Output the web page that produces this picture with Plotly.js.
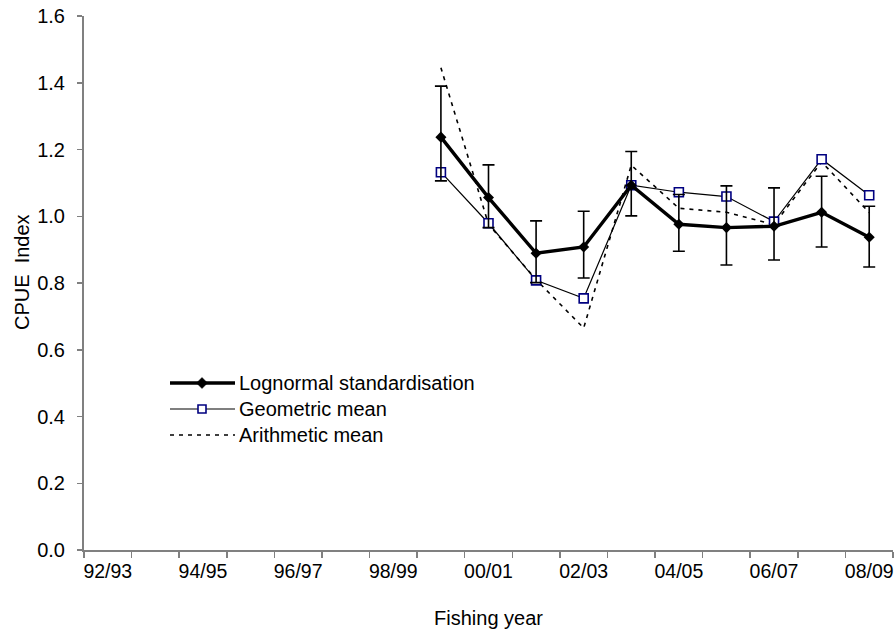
<!DOCTYPE html>
<html>
<head>
<meta charset="utf-8">
<script src="https://cdn.plot.ly/plotly-3.0.1.min.js"></script>
<style>
  html, body { margin: 0; padding: 0; background: #ffffff; }
  #chart { width: 894px; height: 637px; }
</style>
</head>
<body>
<div id="chart"></div>
<script>
// Every fishing year on the category axis
const fishingYears = ['92/93', '93/94', '94/95', '95/96', '96/97', '97/98', '98/99', '99/00',
  '00/01', '01/02', '02/03', '03/04', '04/05', '05/06', '06/07', '07/08', '08/09'];
// Labels printed under the axis (every second year)
const yearLabels = ['92/93', '', '94/95', '', '96/97', '', '98/99', '', '00/01', '',
  '02/03', '', '04/05', '', '06/07', '', '08/09'];

// Years with CPUE estimates
const seriesYears = ['99/00', '00/01', '01/02', '02/03', '03/04', '04/05', '05/06', '06/07', '07/08', '08/09'];

// Lognormal standardised index with its confidence bounds
const lognormal = [1.237, 1.056, 0.889, 0.908, 1.093, 0.976, 0.966, 0.970, 1.012, 0.937];
const lognormalUpper = [1.390, 1.154, 0.986, 1.015, 1.194, 1.065, 1.091, 1.085, 1.120, 1.030];
const lognormalLower = [1.106, 0.966, 0.801, 0.815, 1.001, 0.895, 0.854, 0.869, 0.908, 0.848];

// Unstandardised indices
const geometricMean = [1.132, 0.979, 0.808, 0.754, 1.093, 1.072, 1.059, 0.984, 1.171, 1.063];
const arithmeticMean = [1.445, 0.976, 0.810, 0.665, 1.153, 1.024, 1.012, 0.975, 1.163, 1.011];

// Series names, in key order
const seriesNames = ['Lognormal standardisation', 'Geometric mean', 'Arithmetic mean'];

const errPlus = lognormal.map((v, i) => lognormalUpper[i] - v);
const errMinus = lognormal.map((v, i) => v - lognormalLower[i]);

const FONT = 'Liberation Sans, Arial, sans-serif';
const W = 894, H = 637;
const M = { l: 84, r: 1, t: 16, b: 87 };
const NAVY = '#000080';

// pixel -> paper helpers for the hand-built key and the vertical title
const px = x => (x - M.l) / (W - M.l - M.r);
const py = y => (H - M.b - y) / (H - M.t - M.b);

const lineStyles = [
  { color: '#000000', width: 3.4 },
  { color: '#000000', width: 1.2 },
  { color: '#000000', width: 1.6, dash: '4px,5px' }
];

const traces = [
  {
    x: seriesYears, y: arithmeticMean, type: 'scatter', mode: 'lines',
    name: seriesNames[2], showlegend: false,
    line: lineStyles[2]
  },
  {
    x: seriesYears, y: geometricMean, type: 'scatter', mode: 'lines+markers',
    name: seriesNames[1], showlegend: false,
    line: lineStyles[1],
    marker: { symbol: 'square', size: 9, color: '#ffffff', line: { color: NAVY, width: 1.6 } }
  },
  {
    x: seriesYears, y: lognormal, type: 'scatter', mode: 'lines+markers',
    name: seriesNames[0], showlegend: false,
    line: lineStyles[0],
    marker: { symbol: 'diamond', size: 8.5, color: '#000000' },
    error_y: {
      type: 'data', symmetric: false, array: errPlus, arrayminus: errMinus,
      color: '#000000', thickness: 1.6, width: 6
    }
  }
];

// Key: a short line sample, the marker and the series name per row
const keyRows = [383, 409, 435];
const keyX0 = 170, keyX1 = 235, keyMid = 202, keyText = 237;
const shapes = [];
const annotations = [];
keyRows.forEach((ry, i) => {
  shapes.push({
    type: 'line', xref: 'paper', yref: 'paper',
    x0: px(keyX0), x1: px(keyX1), y0: py(ry), y1: py(ry),
    line: { color: lineStyles[i].color, width: lineStyles[i].width, dash: lineStyles[i].dash || 'solid' }
  });
  annotations.push({
    xref: 'paper', yref: 'paper', x: px(keyText), y: py(ry),
    xanchor: 'left', yanchor: 'middle', showarrow: false,
    text: seriesNames[i], font: { family: FONT, size: 20, color: '#000000' }
  });
});
// diamond marker in the first row
shapes.push({
  type: 'path', xref: 'paper', yref: 'paper',
  xsizemode: 'pixel', ysizemode: 'pixel',
  xanchor: px(keyMid), yanchor: py(keyRows[0]),
  path: 'M -5.5 0 L 0 5.5 L 5.5 0 L 0 -5.5 Z',
  fillcolor: '#000000', line: { color: '#000000', width: 0.5 }
});
// square marker in the second row
shapes.push({
  type: 'path', xref: 'paper', yref: 'paper',
  xsizemode: 'pixel', ysizemode: 'pixel',
  xanchor: px(keyMid), yanchor: py(keyRows[1]),
  path: 'M -4 -4 L 4 -4 L 4 4 L -4 4 Z',
  fillcolor: '#ffffff', line: { color: NAVY, width: 1.6 }
});

// vertical axis title
annotations.push({
  xref: 'paper', yref: 'paper', x: px(22), y: py(272),
  xanchor: 'center', yanchor: 'middle', showarrow: false, textangle: -90,
  text: 'CPUE  Index', font: { family: FONT, size: 20, color: '#000000' }
});

const layout = {
  width: W, height: H,
  margin: M,
  paper_bgcolor: '#ffffff', plot_bgcolor: '#ffffff',
  font: { family: FONT, size: 19, color: '#000000' },
  showlegend: false,
  shapes: shapes,
  annotations: annotations,
  xaxis: {
    type: 'category',
    categoryorder: 'array', categoryarray: fishingYears,
    range: [-0.5, fishingYears.length - 0.5],
    tickmode: 'array', tickvals: fishingYears, ticktext: yearLabels,
    tickson: 'boundaries', tickangle: 0,
    ticks: 'outside', ticklen: 6, tickwidth: 1.5, tickcolor: '#808080',
    ticklabelstandoff: 3,
    showline: true, linecolor: '#808080', linewidth: 2,
    showgrid: false, zeroline: false,
    tickfont: { family: FONT, size: 19.5 },
    title: { text: 'Fishing year', font: { family: FONT, size: 20 }, standoff: 30 }
  },
  yaxis: {
    range: [0, 1.6], dtick: 0.2, tick0: 0, tickformat: '.1f',
    ticks: 'outside', ticklen: 5, tickwidth: 1.5, tickcolor: '#808080',
    ticklabelstandoff: 8,
    showline: true, linecolor: '#808080', linewidth: 2,
    showgrid: false, zeroline: false,
    tickfont: { family: FONT, size: 20 }
  }
};

Plotly.newPlot('chart', traces, layout, { staticPlot: true, displayModeBar: false });
</script>
</body>
</html>
